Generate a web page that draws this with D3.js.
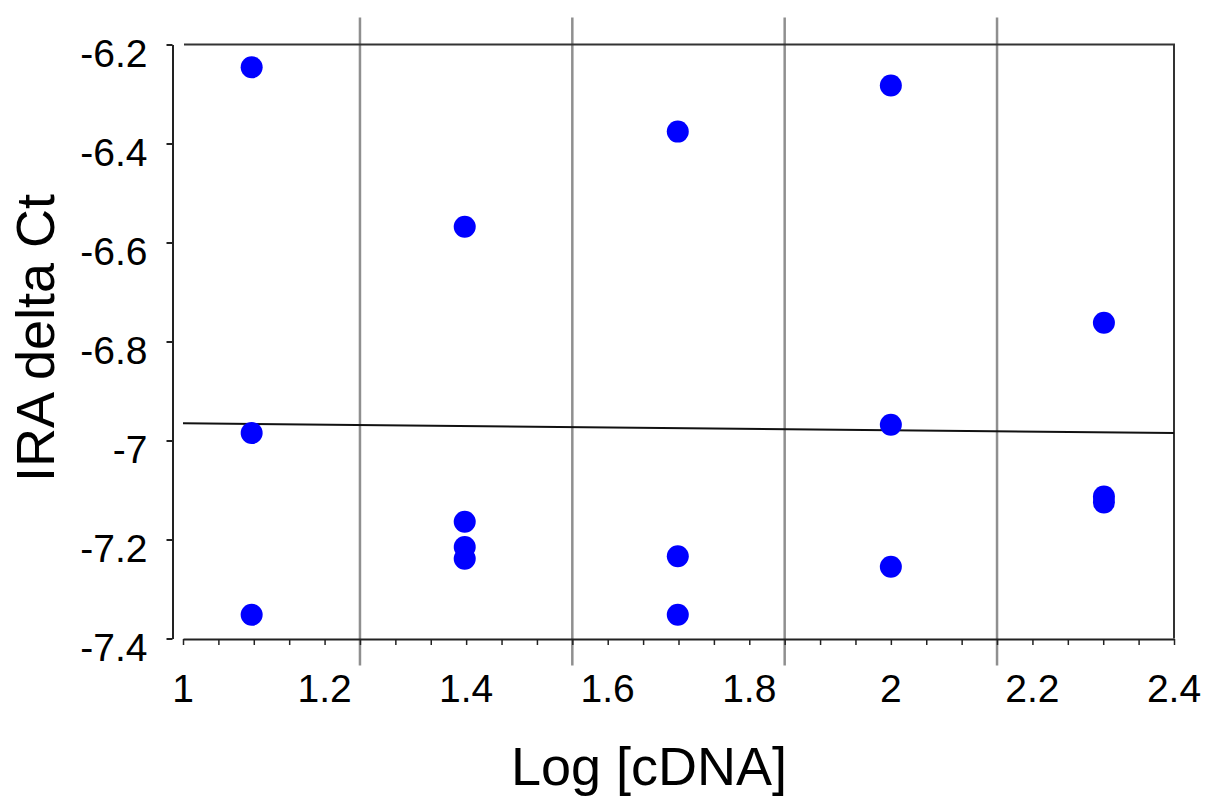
<!DOCTYPE html>
<html>
<head>
<meta charset="utf-8">
<script src="https://cdn.jsdelivr.net/npm/d3@7"></script>
<style>
  body { margin: 0; background: #fff; }
  text { font-family: "Liberation Sans", Arial, sans-serif; }
</style>
</head>
<body>
<div id="chart"></div>
<script>
// data
const xValues = [1.097, 1.097, 1.097,
    1.398, 1.398, 1.398, 1.398,
    1.699, 1.699, 1.699,
    2.0, 2.0, 2.0,
    2.301, 2.301, 2.301];
const yValues = [-6.246, -6.985, -7.352,
    -6.568, -7.164, -7.215, -7.239,
    -6.376, -7.234, -7.352,
    -6.283, -6.968, -7.255,
    -6.762, -7.113, -7.125];
const fitX = [1.0, 2.4];
const fitY = [-6.965, -6.985];
const gridX = [1.25, 1.55, 1.85, 2.15];
const xTickLabels = [1, 1.2, 1.4, 1.6, 1.8, 2, 2.2, 2.4];
const yTickLabels = [-6.2, -6.4, -6.6, -6.8, -7, -7.2, -7.4];

const points = xValues.map((d, i) => ({ x: d, y: yValues[i] }));

const W = 1211, H = 797;
const svg = d3.select("#chart").append("svg")
    .attr("width", W)
    .attr("height", H);

svg.append("rect").attr("width", W).attr("height", H).attr("fill", "#fff");

const x = d3.scaleLinear().domain([1, 2.4]).range([183, 1174]);
const y = d3.scaleLinear().domain([-7.4, -6.2]).range([638.5, 44.5]);

// vertical grey lines between the dilution groups
svg.append("g")
    .selectAll("line")
    .data(gridX)
    .enter()
    .append("line")
    .attr("x1", d => x(d)).attr("x2", d => x(d))
    .attr("y1", y(-6.2) - 27).attr("y2", y(-7.4) + 27)
    .attr("stroke", "#8f8f8f")
    .attr("stroke-width", 2.5);

// frame top and right
svg.append("path")
    .attr("d", `M${x(1) + 1},${y(-6.2)}H${x(2.4)}V${y(-7.4)}`)
    .attr("fill", "none")
    .attr("stroke", "#333")
    .attr("stroke-width", 2);

// x axis: minor ticks every 0.05, labels every 0.2
const minorTicks = d3.range(0, 29).map(i => 1 + i * 0.05);
const xAxis = svg.append("g")
    .attr("transform", `translate(0, ${y(-7.4) + 0.5})`)
    .call(d3.axisBottom(x).tickValues(minorTicks).tickSize(6).tickSizeOuter(0).tickFormat(""));
xAxis.select(".domain").attr("stroke", "#222").attr("stroke-width", 2);
xAxis.selectAll(".tick line").attr("stroke", "#222").attr("stroke-width", 1.5);

svg.append("g")
    .selectAll("text")
    .data(xTickLabels)
    .enter()
    .append("text")
    .attr("x", d => x(d))
    .attr("y", y(-7.4) + 63)
    .attr("text-anchor", "middle")
    .style("font-size", "39px")
    .attr("fill", "#000")
    .text(d => String(d));

// y axis, sits a bit left of the plot box
const yAxis = svg.append("g")
    .attr("transform", "translate(172.5, 0)")
    .call(d3.axisLeft(y).tickValues(yTickLabels).tickSize(6).tickSizeOuter(0).tickPadding(19)
        .tickFormat(d => String(d)));
yAxis.select(".domain").attr("stroke", "#222").attr("stroke-width", 2);
yAxis.selectAll(".tick line").attr("stroke", "#222").attr("stroke-width", 2);
yAxis.selectAll(".tick text")
    .attr("dy", "22px")
    .style("font-size", "39px")
    .attr("fill", "#000");

// fitted line
svg.append("line")
    .attr("x1", x(fitX[0])).attr("y1", y(fitY[0]))
    .attr("x2", x(fitX[1])).attr("y2", y(fitY[1]))
    .attr("stroke", "#111")
    .attr("stroke-width", 2);

// dots
svg.append("g")
    .selectAll("circle")
    .data(points)
    .enter()
    .append("circle")
    .attr("cx", d => x(d.x))
    .attr("cy", d => y(d.y))
    .attr("r", 11)
    .attr("fill", "#0000ff");

// axis titles
svg.append("text")
    .attr("x", 649)
    .attr("y", 785)
    .attr("text-anchor", "middle")
    .style("font-size", "54px")
    .text("Log [cDNA]");

svg.append("text")
    .attr("transform", "translate(54, 338) rotate(-90)")
    .attr("text-anchor", "middle")
    .style("font-size", "54px")
    .text("IRA delta Ct");
</script>
</body>
</html>
